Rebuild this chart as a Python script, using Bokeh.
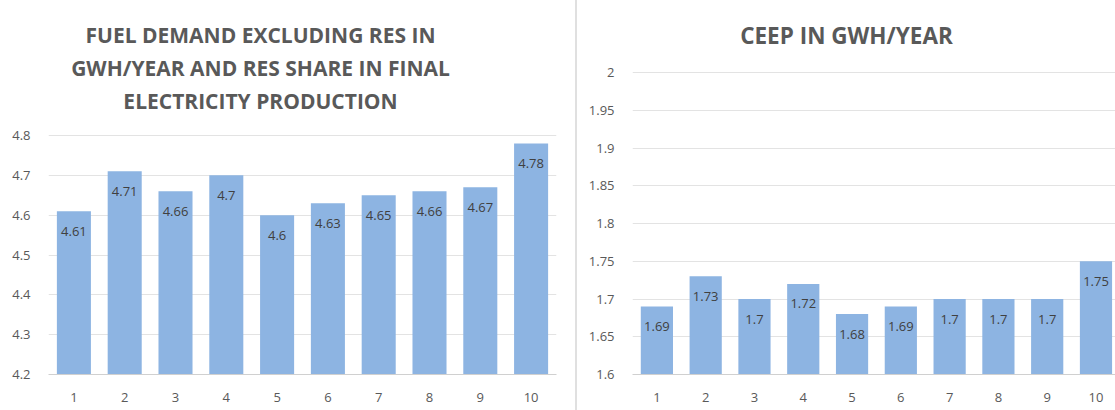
from bokeh.plotting import figure
from bokeh.models import (ColumnDataSource, FixedTicker, CustomJSTickFormatter,
                          Label, Div, Range1d)
from bokeh.layouts import row
from bokeh.core.properties import value
from bokeh.embed import file_html
from bokeh.resources import INLINE

categories = [1, 2, 3, 4, 5, 6, 7, 8, 9, 10]
fuel_demand = [4.61, 4.71, 4.66, 4.70, 4.60, 4.63, 4.65, 4.66, 4.67, 4.78]
ceep = [1.69, 1.73, 1.70, 1.72, 1.68, 1.69, 1.70, 1.70, 1.70, 1.75]
fuel_ticks = [4.2, 4.3, 4.4, 4.5, 4.6, 4.7, 4.8]
ceep_ticks = [1.6, 1.65, 1.7, 1.75, 1.8, 1.85, 1.9, 1.95, 2.0]
fuel_title = ["FUEL DEMAND EXCLUDING RES IN",
              "GWH/YEAR AND RES SHARE IN FINAL",
              "ELECTRICITY PRODUCTION"]
ceep_title = ["CEEP IN GWH/YEAR"]

FONT = "Open Sans"
BAR = "#8db4e2"
GREY = "#595959"
GRID = "#e3e3e3"

BOTTOM_PX = 374    # canvas y of the x axis
FRAME_TOP = 8      # frame reaches almost to the top so titles can sit inside


def make_chart(vals, ticks, axis_px, title_lines, title_x, title_y0,
               title_size, width, frame_w, left, right, x_end, bar_w):
    frame_h = BOTTOM_PX - FRAME_TOP
    y_end = ticks[0] + frame_h * (ticks[-1] - ticks[0]) / axis_px
    p = figure(width=width, height=410, frame_width=frame_w, frame_height=frame_h,
               min_border_left=left, min_border_right=right,
               min_border_top=FRAME_TOP, min_border_bottom=410 - BOTTOM_PX,
               x_range=Range1d(0.5, x_end), y_range=Range1d(ticks[0], y_end),
               output_backend="svg", toolbar_location=None, tools="")
    p.outline_line_color = None
    src = ColumnDataSource(dict(x=categories, top=vals,
                                lab=[f"{v:g}" for v in vals]))
    p.vbar(x="x", top="top", bottom=ticks[0], width=bar_w, source=src,
           fill_color=BAR, line_color=None)
    p.text(x="x", y="top", text="lab", source=src, y_offset=20,
           text_align="center", text_baseline="middle",
           text_font=value(FONT), text_font_size="13px", text_color="#404040")
    p.xaxis.ticker = FixedTicker(ticks=categories)
    p.yaxis.ticker = FixedTicker(ticks=ticks)
    p.yaxis.formatter = CustomJSTickFormatter(
        code="return String(Math.round(tick*100)/100)")
    for ax in (p.xaxis, p.yaxis):
        ax.major_tick_line_color = None
        ax.minor_tick_line_color = None
        ax.major_label_text_font = FONT
        ax.major_label_text_font_size = "13px"
        ax.major_label_text_color = GREY
    p.xaxis.axis_line_color = "#d0d0d0"
    p.yaxis.axis_line_color = None
    p.xaxis.major_label_standoff = 12
    p.yaxis.major_label_standoff = 12
    p.xgrid.grid_line_color = None
    p.ygrid.grid_line_color = GRID
    # screen units measured from the frame's bottom-left corner
    for i, t in enumerate(title_lines):
        p.add_layout(Label(x=title_x, y=title_y0 - 33 * i, x_units="screen",
                           y_units="screen", text=t, text_align="center",
                           text_baseline="middle", text_font=FONT,
                           text_font_size=title_size, text_font_style="bold",
                           text_color=GREY))
    return p


left_p = make_chart(fuel_demand, fuel_ticks, 239, fuel_title, 212, 340, "21px",
                    575, 508, 48, 19, 10.5, 0.67)
right_p = make_chart(ceep, ceep_ticks, 302, ceep_title, 214, 339, "22.5px",
                     538, 483, 55, 0, 10.4, 0.66)

sep = Div(width=2, height=410, margin=0, styles={"background-color": "#e0e0e0"})
layout = row(left_p, sep, right_p, spacing=0)

open("out.html", "w").write(file_html(layout, INLINE))
